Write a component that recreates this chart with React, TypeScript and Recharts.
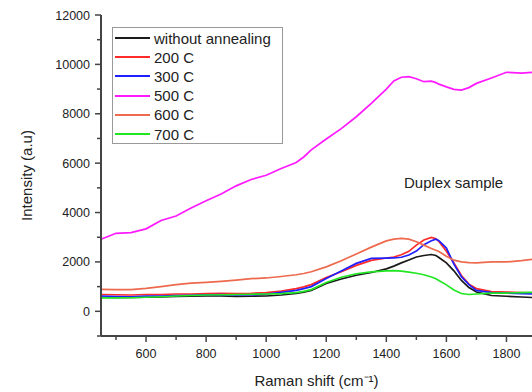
import React from 'react';
import { LineChart, Line, XAxis, YAxis, Legend } from 'recharts';

// Raman shift positions (cm-1)
const shift = [450, 500, 550, 600, 650, 700, 750, 800, 850, 900, 950, 1000, 1050, 1100, 1125, 1150, 1200, 1250, 1300, 1350, 1400, 1425, 1450, 1475, 1500, 1525, 1550, 1565, 1575, 1600, 1625, 1650, 1675, 1700, 1750, 1800, 1850, 1885];

const noAnneal = [570, 560, 560, 570, 580, 600, 610, 620, 620, 600, 610, 620, 660, 720, 780, 850, 1130, 1310, 1460, 1570, 1720, 1830, 1960, 2080, 2200, 2260, 2300, 2260, 2180, 1960, 1640, 1250, 960, 780, 640, 610, 580, 560];
const c200 = [680, 670, 660, 680, 680, 700, 700, 720, 730, 720, 730, 760, 820, 920, 990, 1080, 1370, 1600, 1860, 2060, 2160, 2200, 2290, 2430, 2680, 2890, 2990, 2940, 2830, 2430, 1960, 1450, 1100, 920, 800, 780, 760, 750];
const c300 = [620, 600, 590, 620, 620, 640, 650, 670, 680, 660, 670, 700, 770, 850, 920, 1000, 1330, 1630, 1940, 2140, 2150, 2160, 2190, 2280, 2440, 2700, 2860, 2920, 2860, 2560, 1910, 1400, 1080, 850, 760, 740, 720, 710];
const c500 = [2920, 3160, 3190, 3340, 3680, 3860, 4180, 4480, 4750, 5080, 5340, 5510, 5780, 6030, 6250, 6540, 6980, 7400, 7880, 8420, 9000, 9330, 9480, 9500, 9420, 9300, 9320, 9260, 9200, 9090, 8990, 8960, 9060, 9230, 9450, 9680, 9650, 9680];
const c600 = [890, 880, 880, 930, 1000, 1080, 1140, 1170, 1210, 1260, 1320, 1350, 1410, 1480, 1530, 1600, 1800, 2050, 2320, 2600, 2850, 2920, 2950, 2920, 2820, 2680, 2540, 2470, 2420, 2230, 2070, 2000, 1970, 1960, 2000, 2000, 2050, 2100];
const c700 = [540, 540, 550, 570, 590, 620, 640, 660, 670, 680, 690, 700, 720, 760, 810, 880, 1170, 1380, 1520, 1600, 1640, 1650, 1630, 1590, 1540, 1480, 1390, 1320, 1250, 1070, 860, 720, 680, 700, 740, 740, 760, 770];

const xTicks = [500, 600, 700, 800, 900, 1000, 1100, 1200, 1300, 1400, 1500, 1600, 1700, 1800];
const yTicks = [-1000, 0, 1000, 2000, 3000, 4000, 5000, 6000, 7000, 8000, 9000, 10000, 11000, 12000];

const series = [
  { key: 'noAnneal', name: 'without annealing', color: '#1a1a1a', values: noAnneal },
  { key: 'c200', name: '200 C', color: '#ff2a2a', values: c200 },
  { key: 'c300', name: '300 C', color: '#1f1fff', values: c300 },
  { key: 'c500', name: '500 C', color: '#ff1aff', values: c500 },
  { key: 'c600', name: '600 C', color: '#ee6a4e', values: c600 },
  { key: 'c700', name: '700 C', color: '#22e622', values: c700 },
];

const data = shift.map((x, i) => {
  const row: any = { x };
  series.forEach((s) => { row[s.key] = s.values[i]; });
  return row;
});

const FONT = '"Liberation Sans", Arial, sans-serif';
const AXIS = '#444';

const XTick = (props: any) => {
  const { x, y, payload } = props;
  const major = payload.value % 200 === 0;
  return (
    <g>
      <line x1={x} y1={y} x2={x} y2={y + (major ? 6 : 4)} stroke={AXIS} strokeWidth={1.5} />
      {major && (
        <text x={x} y={y + 22} textAnchor="middle" fontSize={12.5} fontFamily={FONT} fill="#222">{payload.value}</text>
      )}
    </g>
  );
};

const YTick = (props: any) => {
  const { x, y, payload } = props;
  const major = payload.value % 2000 === 0;
  return (
    <g>
      <line x1={x} y1={y} x2={x - (major ? 6 : 4)} y2={y} stroke={AXIS} strokeWidth={1.5} />
      {major && (
        <text x={x - 11} y={y + 4.5} textAnchor="end" fontSize={12.5} fontFamily={FONT} fill="#222">{payload.value}</text>
      )}
    </g>
  );
};

const LegendBox = () => (
  <div style={{ border: '1px solid #999', background: '#fff', width: 169, height: 114, padding: '0.5px 0', fontFamily: FONT, fontSize: 15, color: '#222' }}>
    {series.map((s) => (
      <div key={s.key} style={{ height: 19.2, display: 'flex', alignItems: 'center' }}>
        <span style={{ display: 'inline-block', width: 35, height: 2, background: s.color, marginLeft: 2, marginRight: 4 }} />
        <span style={{ lineHeight: '19px' }}>{s.name}</span>
      </div>
    ))}
  </div>
);

export default function App() {
  return (
    <div style={{ position: 'absolute', left: 0, top: 0, width: 532, height: 392, background: '#fff' }}>
      <LineChart width={532} height={392} data={data} margin={{ top: 15, right: 0, left: 0, bottom: 0 }}>
        <XAxis
          dataKey="x"
          type="number"
          domain={[450, 1885]}
          ticks={xTicks}
          interval={0}
          tickSize={0}
          tickMargin={0}
          tickLine={false}
          tick={<XTick />}
          height={56}
          axisLine={{ stroke: AXIS, strokeWidth: 2 }}
          label={{ value: 'Raman shift (cm⁻¹)', position: 'insideBottom', offset: 6, fontSize: 15, fontFamily: FONT, fill: '#222' }}
        />
        <XAxis xAxisId="top" orientation="top" dataKey="x" type="number" domain={[450, 1885]} height={0} tick={false} tickLine={false} axisLine={{ stroke: '#666', strokeWidth: 2 }} />
        <YAxis
          type="number"
          domain={[-1000, 12000]}
          ticks={yTicks}
          interval={0}
          width={101}
          tickSize={0}
          tickMargin={0}
          tickLine={false}
          tick={<YTick />}
          axisLine={{ stroke: AXIS, strokeWidth: 2 }}
          label={{ value: 'Intensity (a.u)', angle: -90, position: 'insideLeft', offset: 27, fontSize: 15, fontFamily: FONT, fill: '#222', style: { textAnchor: 'middle' } }}
        />
        <Legend layout="vertical" align="center" verticalAlign="middle" content={<LegendBox />} wrapperStyle={{ left: 112, top: 27, width: 171, height: 116 }} />
        {series.map((s) => (
          <Line key={s.key} dataKey={s.key} name={s.name} stroke={s.color} strokeWidth={1.7} dot={false} type="linear" isAnimationActive={false} />
        ))}
      </LineChart>
      <div style={{ position: 'absolute', left: 404, top: 174, fontFamily: FONT, fontSize: 15, color: '#222', whiteSpace: 'nowrap' }}>Duplex sample</div>
    </div>
  );
}
